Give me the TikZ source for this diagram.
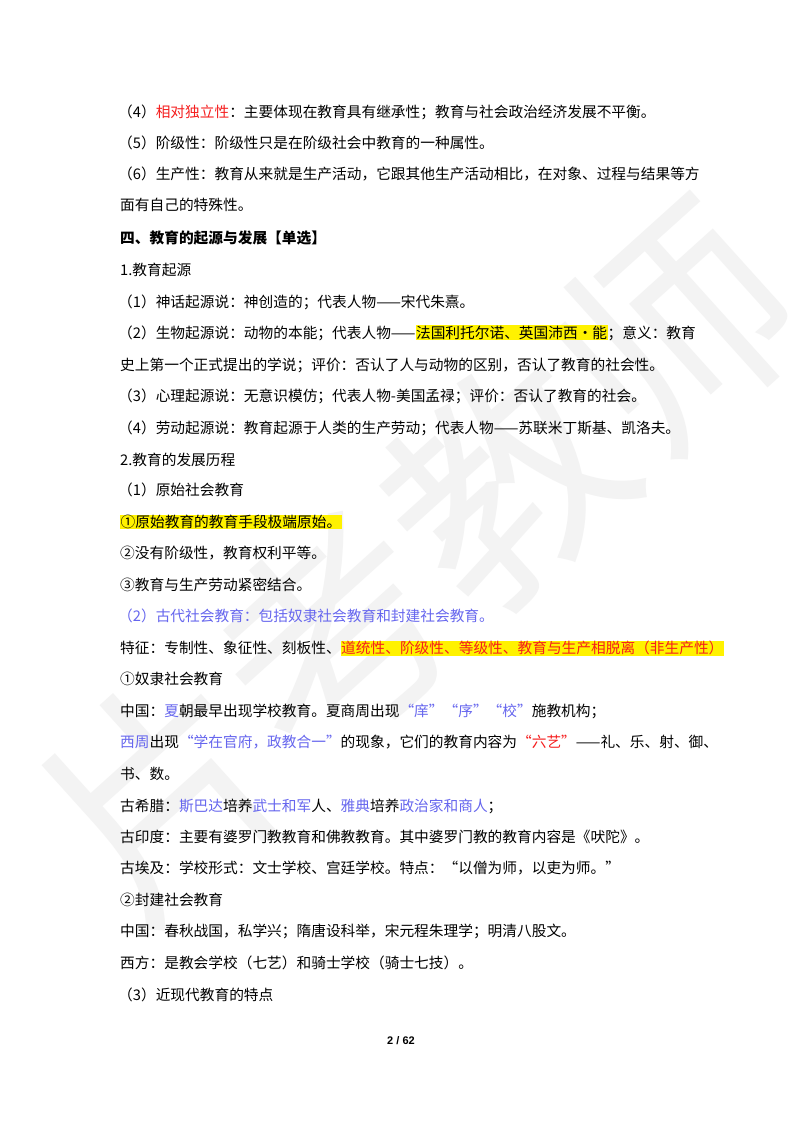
\documentclass[tikz,border=0pt]{standalone}
\usepackage{fontspec}
\setmainfont{Noto Sans CJK SC}
\newfontfamily\pgfont{Liberation Sans}
\definecolor{hlblue}{RGB}{102,102,238}
\definecolor{hlred}{RGB}{245,30,30}
\definecolor{wm}{RGB}{243,243,243}
\newcommand\hlt[1]{{\setlength\fboxsep{0.5pt}\colorbox{yellow}{#1}}}
\newcommand\bl[1]{\textcolor{hlblue}{#1}}
\newcommand\rd[1]{\textcolor{hlred}{#1}}
\begin{document}
\begin{tikzpicture}[x=1pt,y=-1pt,
  ln/.style={anchor=west,inner sep=0pt,font=\fontsize{14.7}{16}\selectfont}]
\useasboundingbox[fill=white] (0,0) rectangle (800,1132);
\node[wm,rotate=42,font=\fontsize{230}{230}\selectfont] (wm1) at (420,560) {片考教师};
\node[ln] (l1) at (118,112) {（4）\rd{相对独立性}：主要体现在教育具有继承性；教育与社会政治经济发展不平衡。};
\node[ln] (l2) at (118,143) {（5）阶级性：阶级性只是在阶级社会中教育的一种属性。};
\node[ln] (l3) at (118,174) {（6）生产性：教育从来就是生产活动，它跟其他生产活动相比，在对象、过程与结果等方};
\node[ln] (l4) at (120,205) {面有自己的特殊性。};
\node[ln] (l5) at (120,238) {\bfseries 四、教育的起源与发展【单选】};
\node[ln] (l6) at (120,270) {1.教育起源};
\node[ln] (l7) at (118,302) {（1）神话起源说：神创造的；代表人物——宋代朱熹。};
\node[ln] (l8) at (118,333) {（2）生物起源说：动物的本能；代表人物——\hlt{法国利托尔诺、英国沛西·能}；意义：教育};
\node[ln] (l9) at (120,365) {史上第一个正式提出的学说；评价：否认了人与动物的区别，否认了教育的社会性。};
\node[ln] (l10) at (118,396) {（3）心理起源说：无意识模仿；代表人物-美国孟禄；评价：否认了教育的社会。};
\node[ln] (l11) at (118,428) {（4）劳动起源说：教育起源于人类的生产劳动；代表人物——苏联米丁斯基、凯洛夫。};
\node[ln] (l12) at (120,460) {2.教育的发展历程};
\node[ln] (l13) at (118,490) {（1）原始社会教育};
\node[ln] (l14) at (120,522) {\hlt{①原始教育的教育手段极端原始。}};
\node[ln] (l15) at (120,553) {②没有阶级性，教育权利平等。};
\node[ln] (l16) at (120,585) {③教育与生产劳动紧密结合。};
\node[ln] (l17) at (118,616) {\bl{（2）古代社会教育：包括奴隶社会教育和封建社会教育。}};
\node[ln] (l18) at (120,648) {特征：专制性、象征性、刻板性、\hlt{\rd{道统性、阶级性、等级性、教育与生产相脱离（非生产性）}}};
\node[ln] (l19) at (120,679) {①奴隶社会教育};
\node[ln] (l20) at (120,711) {中国：\bl{夏}朝最早出现学校教育。夏商周出现\bl{“庠”“序”“校”}施教机构；};
\node[ln] (l21) at (120,742) {\bl{西周}出现\bl{“学在官府，政教合一”}的现象，它们的教育内容为\rd{“六艺”}——礼、乐、射、御、};
\node[ln] (l22) at (120,774) {书、数。};
\node[ln] (l23) at (120,806) {古希腊：\bl{斯巴达}培养\bl{武士和军}人、\bl{雅典}培养\bl{政治家和商人}；};
\node[ln] (l24) at (120,837) {古印度：主要有婆罗门教教育和佛教教育。其中婆罗门教的教育内容是《吠陀》。};
\node[ln] (l25) at (120,868) {古埃及：学校形式：文士学校、宫廷学校。特点：“以僧为师，以吏为师。”};
\node[ln] (l26) at (120,900) {②封建社会教育};
\node[ln] (l27) at (120,931) {中国：春秋战国，私学兴；隋唐设科举，宋元程朱理学；明清八股文。};
\node[ln] (l28) at (120,963) {西方：是教会学校（七艺）和骑士学校（骑士七技）。};
\node[ln] (l29) at (118,995) {（3）近现代教育的特点};
\node[font=\pgfont\bfseries\fontsize{11}{12}\selectfont,inner sep=0pt] (pg) at (401,1041) {2 / 62};
\end{tikzpicture}
\end{document}
